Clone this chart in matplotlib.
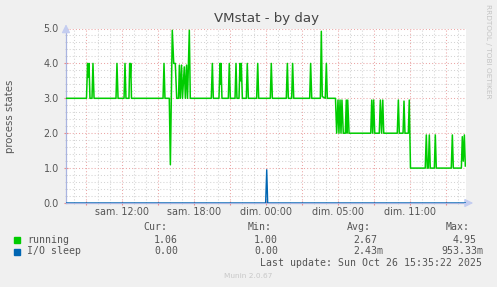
import matplotlib
matplotlib.use("Agg")
import matplotlib.pyplot as plt

W, H = 497, 287

# ---- data (hours since Saturday 00:00, real elapsed time) ----
x_start, x_end = 7.333, 40.667

running_hours = [
    7.333, 9.04, 9.13, 9.18, 9.25, 9.33, 9.50, 9.58, 9.67,
    11.50, 11.58, 11.67, 12.17, 12.25, 12.33,
    12.58, 12.64, 12.68, 12.73, 12.79, 15.42, 15.50, 15.58,
    15.94, 16.03, 16.19, 16.31, 16.44, 16.56,
    16.71, 16.78, 16.86, 16.96, 17.04, 17.19, 17.28, 17.38, 17.46, 17.61, 17.69,
    19.44, 19.53, 19.61, 20.08, 20.17, 20.21, 20.25, 20.33,
    20.86, 20.94, 21.03, 21.42, 21.50, 21.58,
    21.75, 21.83, 21.89, 21.94, 22.03, 22.36, 22.44, 22.53,
    23.22, 23.31, 23.39, 24.36, 24.44, 24.53,
    25.69, 25.78, 25.86, 26.14, 26.22, 26.31,
    27.64, 27.72, 27.81, 28.53, 28.61, 28.69, 28.94, 29.03, 29.11,
    29.79, 29.89, 30.00, 30.08, 30.17, 30.25, 30.33, 30.44,
    30.61, 30.69, 30.75, 30.81, 30.92,
    32.73, 32.81, 32.89, 32.97, 33.06, 33.44, 33.53, 33.63, 33.73, 33.81,
    34.94, 35.03, 35.11, 35.42, 35.50, 35.58, 35.86, 35.94, 36.04,
    37.27, 37.36, 37.44, 37.53, 37.61, 37.69, 38.03, 38.11, 38.19,
    39.44, 39.53, 39.61, 40.28, 40.36, 40.44, 40.53, 40.61,
]
running_values = [
    3.0, 3.0, 4.0, 3.6, 4.0, 3.0, 3.0, 4.0, 3.0,
    3.0, 4.0, 3.0, 3.0, 4.0, 3.0,
    3.0, 4.0, 3.6, 4.0, 3.0, 3.0, 4.0, 3.0,
    3.0, 1.1, 4.95, 4.0, 4.0, 3.0,
    3.0, 3.95, 3.0, 3.95, 3.0, 3.9, 3.0, 3.95, 3.0, 4.95, 3.0,
    3.0, 4.0, 3.0, 3.0, 4.0, 3.4, 4.0, 3.0,
    3.0, 4.0, 3.0, 3.0, 4.0, 3.0,
    3.0, 4.0, 3.5, 4.0, 3.0, 3.0, 4.0, 3.0,
    3.0, 4.0, 3.0, 3.0, 4.0, 3.0,
    3.0, 4.0, 3.0, 3.0, 4.0, 3.0,
    3.0, 4.0, 3.0, 3.0, 4.92, 3.05, 3.0, 4.0, 3.0,
    3.0, 2.0, 2.95, 2.0, 2.95, 2.0, 2.95, 2.0,
    2.0, 2.95, 2.0, 2.95, 2.0,
    2.0, 2.95, 2.0, 2.95, 2.0, 2.0, 2.95, 2.0, 2.95, 2.0,
    2.0, 2.95, 2.0, 2.0, 2.92, 2.0, 2.0, 2.95, 1.0,
    1.0, 1.95, 1.0, 1.0, 1.95, 1.0, 1.0, 1.95, 1.0,
    1.0, 1.95, 1.0, 1.0, 1.9, 1.2, 1.95, 1.06,
]

io_hours = [7.333, 23.97, 24.06, 24.14, 40.61]
io_values = [0.0, 0.0, 0.953, 0.0, 0.0]

x_tick_pos = [12, 18, 24, 30, 36]
x_tick_labels = ["sam. 12:00", "sam. 18:00", "dim. 00:00", "dim. 05:00", "dim. 11:00"]
y_ticks = [0, 1, 2, 3, 4, 5]
y_tick_labels = ["0.0", "1.0", "2.0", "3.0", "4.0", "5.0"]

series_names = ["running", "I/O sleep"]
series_colors = ["#00cc00", "#0066b3"]
stat_headers = ["Cur:", "Min:", "Avg:", "Max:"]
stats = [["1.06", "1.00", "2.67", "4.95"],
         ["0.00", "0.00", "2.43m", "953.33m"]]

# ---- figure ----
fig = plt.figure(figsize=(W / 100, H / 100), dpi=100, facecolor="#f0f0f0")
L, T, R, B = 66, 28.5, 466, 203
ax = fig.add_axes([L / W, 1 - B / H, (R - L) / W, (B - T) / H])
ax.set_facecolor("white")
ax.set_xlim(x_start, x_end)
ax.set_ylim(0, 5)

def px(x, y):
    return x / W, 1 - y / H

# grid
major_x = list(range(9, 40, 3))
minor_x = list(range(8, 41))
ax.set_xticks(major_x)
ax.set_xticks(minor_x, minor=True)
ax.set_xticklabels([""] * len(major_x))
ax.set_yticks(y_ticks)
ax.set_yticks([i * 0.2 for i in range(26)], minor=True)
ax.set_yticklabels(y_tick_labels, fontsize=6.9, color="#555555")
ax.grid(which="minor", color="#d4d4d4", linestyle=(0, (1, 2)), linewidth=0.75)
ax.grid(which="major", color="#eba6a6", linestyle=(0, (1, 2)), linewidth=0.75)
ax.set_axisbelow(True)
ax.tick_params(axis="x", which="major", length=2.5, color="#ee8888", direction="inout", pad=7)
ax.tick_params(axis="x", which="minor", length=2, color="#c8c8c8", direction="inout")
ax.tick_params(axis="y", which="major", length=2.5, color="#ee8888", direction="inout", pad=4)
ax.tick_params(axis="y", which="minor", length=2, color="#c8c8c8", direction="inout")
for s in ["top", "right"]:
    ax.spines[s].set_visible(False)
for s in ["left", "bottom"]:
    ax.spines[s].set_color("#a9b4e0")
    ax.spines[s].set_linewidth(0.9)

for xp, lab in zip(x_tick_pos, x_tick_labels):
    ax.text(xp, -0.12, lab, ha="center", va="top", fontsize=6.9, color="#555555",
            transform=ax.transData, clip_on=False)

# axis arrows
ax.annotate("", xy=(1.025, 0), xytext=(0.99, 0), xycoords="axes fraction",
            arrowprops=dict(arrowstyle="-|>,head_length=0.5,head_width=0.25",
                            color="#c4cdf0", lw=0.9))
ax.annotate("", xy=(0, 1.04), xytext=(0, 0.99), xycoords="axes fraction",
            arrowprops=dict(arrowstyle="-|>,head_length=0.5,head_width=0.25",
                            color="#c4cdf0", lw=0.9))

ax.plot(running_hours, running_values, color=series_colors[0], lw=1.1, zorder=3)
ax.plot(io_hours, io_values, color=series_colors[1], lw=1.0, zorder=4)

# texts
fig.text(*px(266, 18.5), "VMstat - by day", ha="center", va="center",
         fontsize=9.6, color="#444444")
fig.text(*px(10, 116), "process states", ha="center", va="center", rotation=90,
         fontsize=7.3, color="#555555")
fig.text(*px(488, 4), "RRDTOOL / TOBI OETIKER", ha="center", va="top", rotation=270,
         fontsize=5.3, color="#c4c4c4")

mono = "DejaVu Sans Mono"
fs = 7.15
header_right = [167.5, 272, 371, 470]
val_right = [[178, 278, 377.7, 476.7], [178, 278, 383, 483]]
for hx, h in zip(header_right, stat_headers):
    fig.text(*px(hx, 227.5), h, ha="right", va="center", fontsize=fs,
             family=mono, color="#555555")
row_y = [240, 251.5]
for i, name in enumerate(series_names):
    fig.patches.append(plt.Rectangle(px(14, row_y[i] + 3), 6 / W, 6 / H,
                                     transform=fig.transFigure, color=series_colors[i]))
    fig.text(*px(27, row_y[i]), name, ha="left", va="center", fontsize=fs,
             family=mono, color="#555555")
    for j, v in enumerate(stats[i]):
        fig.text(*px(val_right[i][j], row_y[i]), v, ha="right", va="center",
                 fontsize=fs, family=mono, color="#555555")
fig.text(*px(482.5, 263.5), "Last update: Sun Oct 26 15:35:22 2025", ha="right",
         va="center", fontsize=fs, family=mono, color="#555555")
fig.text(*px(248, 276.5), "Munin 2.0.67", ha="center", va="center", fontsize=5.3,
         color="#c8c8c8")

fig.savefig("out.png", dpi=100, facecolor=fig.get_facecolor())
